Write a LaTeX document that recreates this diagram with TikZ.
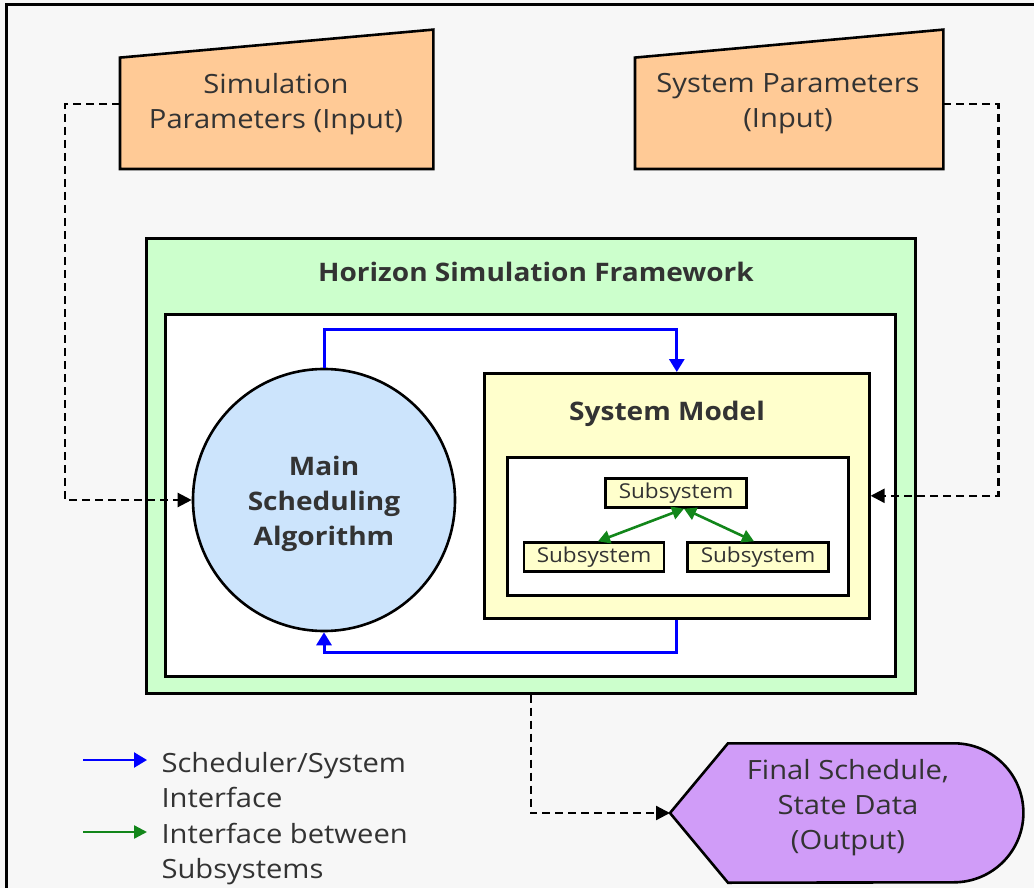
\documentclass[tikz,border=0pt]{standalone}
\usepackage{fontspec}
\setmainfont[FakeStretch=1.1]{Open Sans}
\usetikzlibrary{positioning}
\usetikzlibrary{arrows.meta}
\usetikzlibrary{calc}
\definecolor{pBack}{HTML}{F7F7F7}
\definecolor{pOrange}{HTML}{FFCA96}
\definecolor{pGreen}{HTML}{CCFFCC}
\definecolor{pYellow}{HTML}{FFFFCC}
\definecolor{pBlue}{HTML}{CCE4FC}
\definecolor{pPurple}{HTML}{D09CF8}
\definecolor{pText}{HTML}{333333}
\definecolor{lineGreen}{HTML}{12861A}
\tikzset{
  box/.style={draw, line width=2.6pt, anchor=north west, inner sep=0pt},
  subbox/.style={draw, line width=2.4pt, fill=pYellow, minimum width=141pt, minimum height=29pt, inner sep=0pt, font=\fontsize{20.5}{24}\selectfont},
  boldtext/.style={font=\fontsize{25.5}{35}\selectfont\bfseries},
  flowdash/.style={line width=2.3pt, dash pattern=on 8pt off 5pt, -{Triangle[length=14pt, width=14pt]}},
  schedline/.style={blue, line width=3pt, -{Triangle[length=13pt, width=15pt]}},
}

\begin{document}
\begin{tikzpicture}[x=1pt, y=-1pt, every node/.style={text=pText, font=\fontsize{26.5}{35}\selectfont}]
  \useasboundingbox (0,0) rectangle (1034,888);
  \fill[pBack] (0,0) rectangle (1034,888);
  \draw[line width=3pt] (6,888) -- (6,5) -- (1034,5);

  % inputs
  \node[minimum width=313pt, minimum height=111pt, inner sep=0pt, anchor=south west] (sim-params) at (120,169) {};
  \draw[line width=2.6pt, fill=pOrange] (sim-params.south west) -- (sim-params.north west) -- ([yshift=28pt]sim-params.north east) -- (sim-params.south east) -- cycle;
  \node[align=center] (sim-text) at (276,104) {Simulation\\Parameters (Input)};

  \node[minimum width=308pt, minimum height=111pt, inner sep=0pt, anchor=south west] (sys-params) at (635,169) {};
  \draw[line width=2.6pt, fill=pOrange] (sys-params.south west) -- (sys-params.north west) -- ([yshift=28pt]sys-params.north east) -- (sys-params.south east) -- cycle;
  \node[align=center] (sys-text) at (788,104) {System Parameters\\(Input)};

  % framework
  \node[box, fill=pGreen, minimum width=769pt, minimum height=455pt] (hsf) at (145,237) {};
  \node[boldtext] (hsf-title) at (536,272) {Horizon Simulation Framework};
  \node[box, fill=white, minimum width=730pt, minimum height=362pt] (hsf-inner) at (164,313) {};

  \node[circle, draw, line width=2.6pt, fill=pBlue, minimum size=262pt] (sched-alg) at (324,500) {};
  \node[boldtext, align=center] (sched-text) at (324,504) {Main\\Scheduling\\Algorithm};

  \node[box, fill=pYellow, minimum width=385pt, minimum height=245pt] (sys-model) at (483,372) {};
  \node[boldtext] (sys-title) at (667,414) {System Model};
  \node[box, fill=white, minimum width=341pt, minimum height=138pt] (sub-box) at (506,456) {};

  \node[subbox] (sub-top) at (676,493) {Subsystem};
  \node[subbox, minimum width=140pt] (sub-left) at (594,557) {Subsystem};
  \node[subbox] (sub-right) at (758,557) {Subsystem};

  \draw[lineGreen, line width=2.6pt, {Triangle[length=12pt, width=13pt]}-{Triangle[length=12pt, width=13pt]}] ([xshift=8pt]sub-top.south) -- ([xshift=4pt]sub-left.north);
  \draw[lineGreen, line width=2.6pt, {Triangle[length=12pt, width=13pt]}-{Triangle[length=12pt, width=13pt]}] ([xshift=8pt]sub-top.south) -- ([xshift=-4pt]sub-right.north);

  \draw[schedline] (sched-alg.north) -- ++(0,-38) -| (sys-model.north);
  \draw[schedline] (sys-model.south) -- ++(0,33) -| (sched-alg.south);

  % output
  \node[minimum width=353pt, minimum height=139pt, inner sep=0pt, anchor=west] (output) at (670,813) {};
  \draw[line width=2.6pt, fill=pPurple] (output.west) -- ([xshift=58pt]output.north west) -- ([xshift=-69.5pt]output.north east) arc[start angle=-90, end angle=90, radius=69.5] -- ([xshift=58pt]output.south west) -- cycle;
  \node[align=center] (output-text) at (848,808) {Final Schedule,\\State Data\\(Output)};

  \draw[flowdash] (sim-text.west -| sim-params.west) -- ++(-55,0) |- (sched-alg.west);
  \draw[flowdash] (sys-text.east -| sys-params.east) -- ++(55,0) |- (sys-model.east);
  \draw[flowdash] (hsf.south) |- (output.west);

  % legend
  \node[anchor=west, align=left] (leg-sched) at (158,780) {Scheduler/System\\Interface};
  \node[anchor=west, align=left] (leg-sub) at (158,854) {Interface between\\Subsystems};
  \coordinate (leg-sched-start) at (83,760);
  \coordinate (leg-sub-start) at (83,832);
  \draw[schedline, line width=2.4pt] (leg-sched-start) -- ++(64,0);
  \draw[lineGreen, line width=2.4pt, -{Triangle[length=13pt, width=13pt]}] (leg-sub-start) -- ++(64,0);
\end{tikzpicture}
\end{document}
